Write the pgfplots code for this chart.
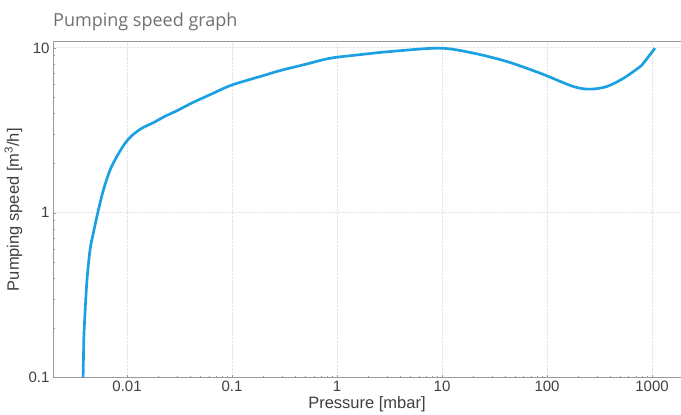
\documentclass[border=0pt]{standalone}
\usepackage{fontspec}
\setmainfont{Liberation Sans}
\newfontfamily\titlefont{Open Sans}
\usepackage{pgfplots}
\pgfplotsset{compat=1.18}
\definecolor{curve}{HTML}{1BA1E2}
\definecolor{axgray}{HTML}{9A9A9A}
\definecolor{gridgray}{HTML}{E4E4E4}
\definecolor{txt}{HTML}{404040}
\definecolor{titlegray}{HTML}{707070}

\begin{document}
\begin{tikzpicture}
\begin{axis}[
    name=ax,
    scale only axis,
    width=628bp, height=336bp,
    xmode=log, ymode=log,
    xmin=0.00197, xmax=1888,
    ymin=0.1, ymax=10.9,
    xtick={0.01,0.1,1,10,100,1000},
    xticklabels={0.01,0.1,1,10,100,1000},
    ytick={0.1,1,10},
    yticklabels={0.1,1,10},
    axis x line=box, axis y line=left,
    axis line style={-, draw=axgray, line width=0.8pt},
    xtick pos=bottom, ytick pos=left,
    tick align=inside,
    major tick length=3bp, minor tick length=2bp,
    every tick/.style={axgray, line width=0.5pt},
    xmajorgrids, ymajorgrids,
    major grid style={gridgray, densely dotted, line width=0.8pt},
    tick label style={font=\fontsize{15bp}{17bp}\selectfont, text=txt},
    /pgf/number format/assume math mode=true,
    xlabel={Pressure [mbar]},
    ylabel={Pumping speed [m\textsuperscript{3}/h]},
    label style={font=\fontsize{16.5bp}{18bp}\selectfont, text=txt},
    xlabel style={at={(axis description cs:0.5,0)}, anchor=base, yshift=-31bp},
    ylabel style={at={(axis description cs:0,0.5)}, anchor=center, yshift=39.5bp},
    clip=false,
]
\addplot[curve, line width=2.7pt, smooth, tension=0.5] coordinates {
    (0.00381,0.1)(0.00385,0.14)(0.00389,0.187)(0.00413,0.375)(0.00444,0.597)
    (0.00477,0.753)(0.00533,1.04)(0.00596,1.38)(0.00689,1.82)(0.00798,2.19)
    (0.00922,2.55)(0.0103,2.80)(0.0117,3.02)(0.0140,3.27)(0.0178,3.52)
    (0.0230,3.85)(0.0297,4.15)(0.0420,4.65)(0.0616,5.2)(0.0957,5.9)
    (0.15,6.45)(0.2,6.8)(0.29,7.3)(0.5,7.95)(0.857,8.65)(1.66,9.1)
    (3.2,9.5)(9.57,9.96)(19.9,9.29)(41.3,8.27)(85.7,7.03)(178,5.83)
    (257,5.62)(371,5.83)(537,6.55)(770,7.7)(826,8.07)(1068,9.96)
};
\end{axis}
\node[anchor=base west, inner sep=0pt, font=\titlefont\fontsize{18bp}{20bp}\selectfont, text=titlegray]
    at ([yshift=15bp]ax.north west) {Pumping speed graph};
\pgfresetboundingbox
\path[use as bounding box] ([xshift=-53bp,yshift=-37bp]ax.south west)
    rectangle ([yshift=41.7bp]ax.north east);
\end{tikzpicture}
\end{document}
